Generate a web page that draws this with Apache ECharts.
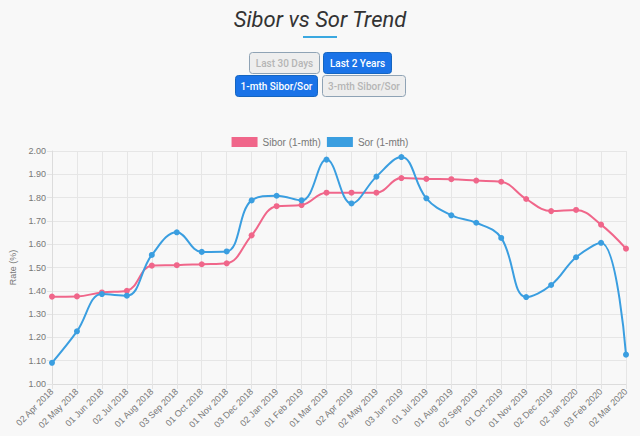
<!DOCTYPE html>
<html>
<head>
<meta charset="utf-8">
<script src="https://cdn.jsdelivr.net/npm/echarts@6/dist/echarts.min.js"></script>
<style>
html,body{margin:0;padding:0;background:#f8f8f8;}
#c{width:640px;height:436px;}
</style>
</head>
<body>
<div id="c"></div>
<script>
const categories = ['02 Apr 2018','02 May 2018','01 Jun 2018','02 Jul 2018','01 Aug 2018','03 Sep 2018','01 Oct 2018','01 Nov 2018','03 Dec 2018','02 Jan 2019','01 Feb 2019','01 Mar 2019','02 Apr 2019','02 May 2019','03 Jun 2019','01 Jul 2019','01 Aug 2019','02 Sep 2019','01 Oct 2019','01 Nov 2019','02 Dec 2019','02 Jan 2020','03 Feb 2020','02 Mar 2020'];
const sibor = [1.375,1.376,1.393,1.400,1.508,1.510,1.514,1.518,1.638,1.763,1.768,1.821,1.821,1.821,1.884,1.880,1.879,1.873,1.868,1.794,1.742,1.747,1.684,1.581];
const sor = [1.091,1.226,1.386,1.379,1.554,1.651,1.567,1.569,1.788,1.808,1.788,1.963,1.775,1.890,1.974,1.797,1.724,1.692,1.627,1.373,1.425,1.544,1.606,1.126];
const yTicks = {min:1.0, max:2.0, interval:0.1};
const titleText = 'Sibor vs Sor Trend';
const buttons1 = ['Last 30 Days','Last 2 Years'];
const buttons2 = ['1-mth Sibor/Sor','3-mth Sibor/Sor'];

const chart = echarts.init(document.getElementById('c'), null, {renderer:'svg'});
const font = 'Roboto, "Open Sans", sans-serif';
const lfont = '"Liberation Sans", Arial, sans-serif';
function btn(x,y,w,h,label,active){
  return {type:'group', left:x, top:y, children:[
    {type:'rect', shape:{x:0,y:0,width:w,height:h,r:3},
     style:{fill: active?'#1a73e8':'#eeeeee', stroke: active?'#1565c0':'#8fa3b5', lineWidth:1}},
    {type:'text', style:{x:w/2,y:h/2,text:label,textAlign:'center',textVerticalAlign:'middle',
      fill: active?'#ffffff':'#b5b5b5', font:'500 10px '+font}}
  ]};
}
const option = {
  backgroundColor:'#f8f8f8',
  animation:false,
  title:{text:titleText,left:'center',top:3,textStyle:{fontFamily:font,fontStyle:'italic',fontWeight:'normal',fontSize:22,color:'#333'}},
  graphic:[
    {type:'rect', left:303, top:36, shape:{width:34,height:2}, style:{fill:'#3aa8e0'}},
    btn(249,52,70,21,buttons1[0],false),
    btn(323,52,68,21,buttons1[1],true),
    btn(235,75,82,21,buttons2[0],true),
    btn(322,75,83,21,buttons2[1],false)
  ],
  legend:{top:132,left:'center',itemWidth:26,itemHeight:10,itemGap:6,icon:'rect',
    textStyle:{fontFamily:lfont,fontSize:10,color:'#777'},
    data:['Sibor (1-mth)','Sor (1-mth)']},
  grid:{left:52,right:14,top:151,bottom:52,containLabel:false},
  xAxis:{type:'category',data:categories,boundaryGap:false,
    axisLine:{show:true,lineStyle:{color:'#dcdcdc'}},
    axisTick:{show:true,length:5,lineStyle:{color:'#e3e3e3'},alignWithLabel:true},
    splitLine:{show:true,lineStyle:{color:'#e6e6e6'}},
    axisLabel:{rotate:45,interval:0,fontSize:9,color:'#777',fontFamily:lfont,margin:6}},
  yAxis:{type:'value',min:yTicks.min,max:yTicks.max,interval:yTicks.interval,
    name:'Rate (%)',nameLocation:'middle',nameGap:24,nameTextStyle:{fontSize:9,color:'#777',fontFamily:lfont},
    axisLine:{show:true,lineStyle:{color:'#dcdcdc'}},
    axisTick:{show:true,length:5,lineStyle:{color:'#e3e3e3'}},
    splitLine:{show:true,lineStyle:{color:'#e6e6e6'}},
    axisLabel:{formatter:v=>v.toFixed(2),fontSize:9,color:'#777',fontFamily:lfont,margin:6}},
  series:[
    {name:'Sibor (1-mth)',type:'line',data:sibor,smooth:0.4,symbol:'circle',symbolSize:6,
     lineStyle:{color:'#f0668a',width:2},itemStyle:{color:'#f0668a'}},
    {name:'Sor (1-mth)',type:'line',data:sor,smooth:0.4,symbol:'circle',symbolSize:6,
     lineStyle:{color:'#3a9ee0',width:2},itemStyle:{color:'#3a9ee0'}}
  ]
};
chart.setOption(option);
</script>
</body>
</html>
